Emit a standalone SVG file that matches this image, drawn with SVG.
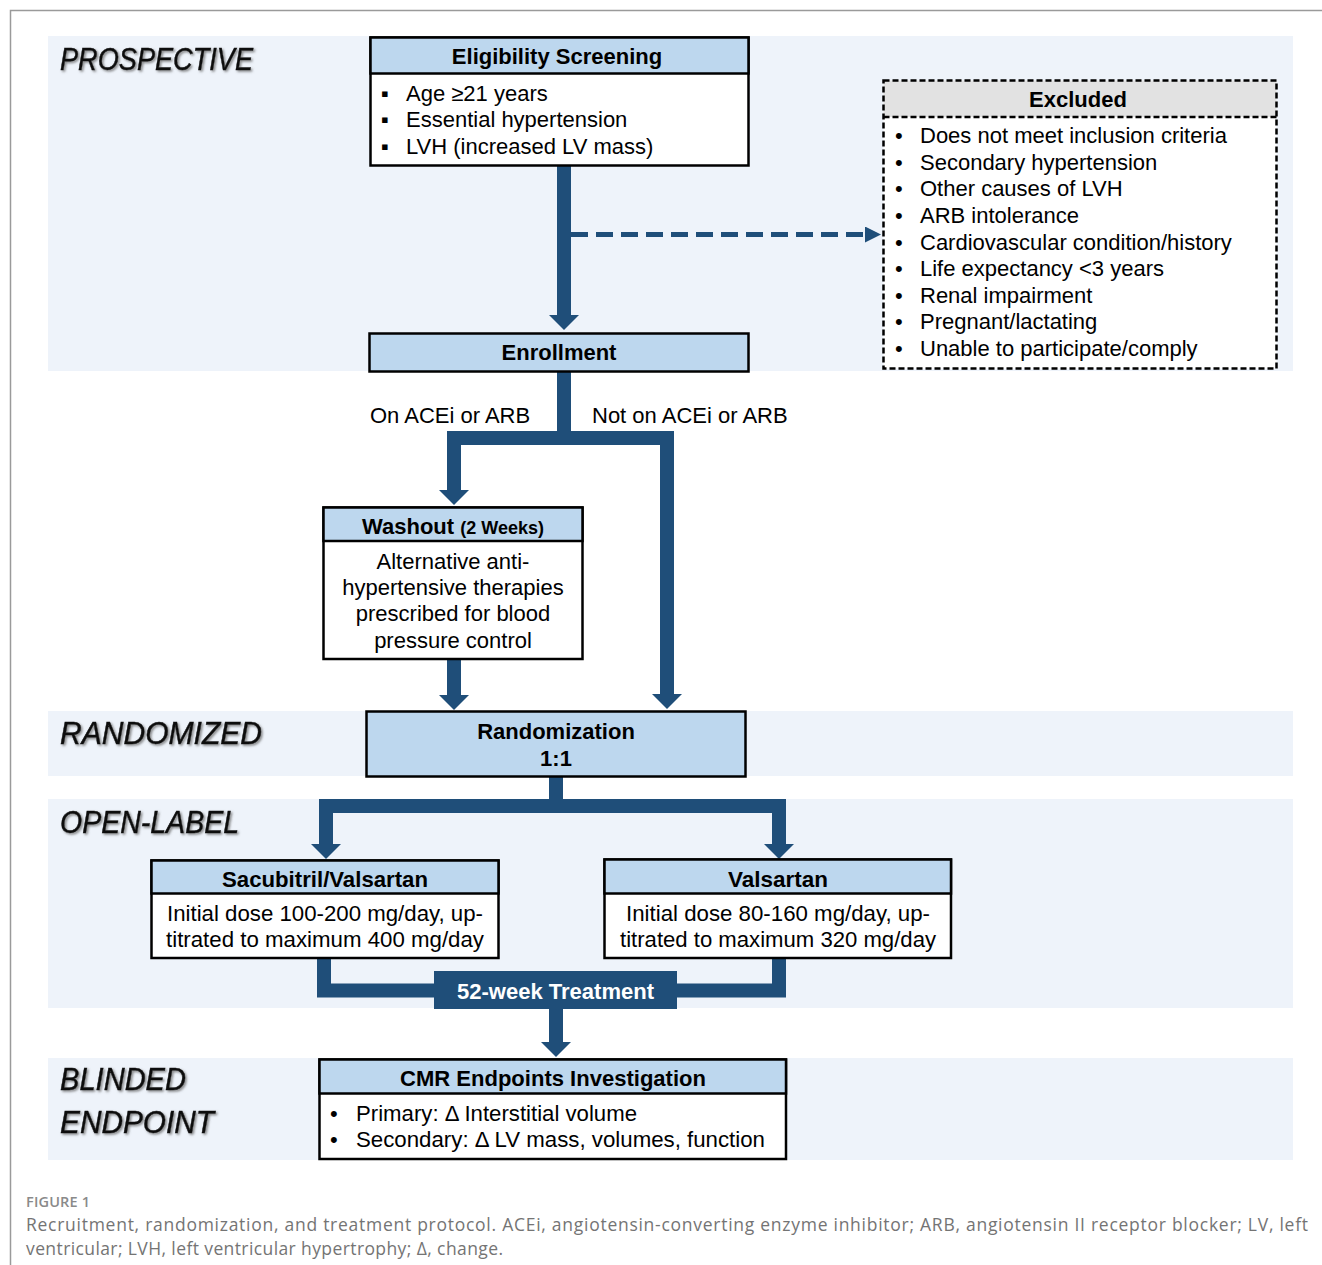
<svg xmlns="http://www.w3.org/2000/svg" width="1322" height="1265" viewBox="0 0 1322 1265">
<style>
.band{fill:#EEF3FA}
.lbl{font-family:"Liberation Sans",Arial,sans-serif;font-style:italic;font-size:32px;fill:#0A0A0A;stroke:#0A0A0A;stroke-width:0.5}
.box{fill:#fff;stroke:#000;stroke-width:2.5}
.hdr{fill:#BDD7EE;stroke:#000;stroke-width:2.5}
.ghdr{fill:#E2E2E2}
.dash{fill:none;stroke:#000;stroke-width:2.5;stroke-dasharray:6,3}
.ht{font-family:"Liberation Sans",Arial,sans-serif;font-weight:bold;font-size:22px;fill:#000;text-anchor:middle}
.bt{font-family:"Liberation Sans",Arial,sans-serif;font-size:22px;fill:#000}
.ct{font-family:"Liberation Sans",Arial,sans-serif;font-size:22px;fill:#000;text-anchor:middle}
.conn{fill:none;stroke:#1F4E79;stroke-width:14}
.cap{font-family:"Open Sans","Liberation Sans",sans-serif;fill:#747474}
</style>
<defs>
<marker id="ah" markerUnits="userSpaceOnUse" viewBox="0 -15 15 30" refX="0" refY="0" markerWidth="15" markerHeight="30" orient="auto">
<path d="M0,-15 L15,0 L0,15 Z" fill="#1F4E79"/>
</marker>
<marker id="ahs" markerUnits="userSpaceOnUse" viewBox="0 -8 16 16" refX="0" refY="0" markerWidth="16" markerHeight="16" orient="auto">
<path d="M0,-8 L16,0 L0,8 Z" fill="#1F4E79"/>
</marker>
<filter id="sh" x="-5%" y="-20%" width="110%" height="150%">
<feDropShadow dx="1.5" dy="1.5" stdDeviation="1.3" flood-color="#666" flood-opacity="0.8"/>
</filter>
</defs>
<rect width="1322" height="1265" fill="#fff"/>
<path d="M10.5,1265 V10.5 H1322" fill="none" stroke="#9A9A9A" stroke-width="1.5"/>

<g id="bands">
<rect class="band" x="48" y="36" width="1245" height="335"/>
<rect class="band" x="48" y="711" width="1245" height="65"/>
<rect class="band" x="48" y="799" width="1245" height="209"/>
<rect class="band" x="48" y="1058" width="1245" height="102"/>
</g>

<g id="phase-labels" filter="url(#sh)">
<text class="lbl" x="60" y="70" textLength="193" lengthAdjust="spacingAndGlyphs">PROSPECTIVE</text>
<text class="lbl" x="60" y="744" textLength="202" lengthAdjust="spacingAndGlyphs">RANDOMIZED</text>
<text class="lbl" x="60" y="833" textLength="179" lengthAdjust="spacingAndGlyphs">OPEN-LABEL</text>
<text class="lbl" x="60" y="1090" textLength="126" lengthAdjust="spacingAndGlyphs">BLINDED</text>
<text class="lbl" x="60" y="1133" textLength="154" lengthAdjust="spacingAndGlyphs">ENDPOINT</text>
</g>

<g id="connectors">
<path class="conn" d="M564,165 V315" marker-end="url(#ah)"/>
<path d="M571,234.5 H865" fill="none" stroke="#1F4E79" stroke-width="5" stroke-dasharray="17,8" marker-end="url(#ahs)"/>
<path class="conn" d="M564,371 V438"/>
<path class="conn" d="M454,489 V438 H667 V694" marker-end="url(#ah)"/>
<path d="M454,489 V490" class="conn" marker-end="url(#ah)"/>
<path class="conn" d="M454,659 V695" marker-end="url(#ah)"/>
<path class="conn" d="M556,776 V806"/>
<path class="conn" d="M326,844 V806 H779 V844" marker-end="url(#ah)"/>
<path class="conn" d="M326,843 V844" marker-end="url(#ah)"/>
<path class="conn" d="M324,958 V990.5 H779 V958"/>
<path class="conn" d="M556,1008 V1042" marker-end="url(#ah)"/>
</g>

<g id="eligibility">
<rect class="box" x="370.5" y="37.5" width="378" height="128"/>
<rect class="hdr" x="370.5" y="37.5" width="378" height="36"/>
<text class="ht" x="557" y="64">Eligibility Screening</text>
<text class="bt" x="381" y="101" font-size="18">▪</text>
<text class="bt" x="381" y="127" font-size="18">▪</text>
<text class="bt" x="381" y="154" font-size="18">▪</text>
<text class="bt" x="406" y="101">Age ≥21 years</text>
<text class="bt" x="406" y="127">Essential hypertension</text>
<text class="bt" x="406" y="154">LVH (increased LV mass)</text>
</g>

<g id="excluded">
<rect x="883.5" y="80.5" width="393" height="288" fill="#fff"/>
<rect class="ghdr" x="883.5" y="80.5" width="393" height="36.5"/>
<rect class="dash" x="883.5" y="80.5" width="393" height="288"/>
<line class="dash" x1="883.5" y1="117" x2="1276.5" y2="117"/>
<text class="ht" x="1078" y="107">Excluded</text>
<g class="bt">
<text x="895" y="143">•</text><text x="920" y="143">Does not meet inclusion criteria</text>
<text x="895" y="170">•</text><text x="920" y="170">Secondary hypertension</text>
<text x="895" y="196">•</text><text x="920" y="196">Other causes of LVH</text>
<text x="895" y="223">•</text><text x="920" y="223">ARB intolerance</text>
<text x="895" y="250">•</text><text x="920" y="250">Cardiovascular condition/history</text>
<text x="895" y="276">•</text><text x="920" y="276">Life expectancy &lt;3 years</text>
<text x="895" y="303">•</text><text x="920" y="303">Renal impairment</text>
<text x="895" y="329">•</text><text x="920" y="329">Pregnant/lactating</text>
<text x="895" y="356">•</text><text x="920" y="356">Unable to participate/comply</text>
</g>
</g>

<g id="enrollment">
<rect class="hdr" x="369.5" y="333.5" width="379" height="38"/>
<text class="ht" x="559" y="360">Enrollment</text>
</g>

<g id="branch-labels">
<text class="bt" x="370" y="423" font-size="21">On ACEi or ARB</text>
<text class="bt" x="592" y="423" font-size="21">Not on ACEi or ARB</text>
</g>

<g id="washout">
<rect class="box" x="323.5" y="507.5" width="259" height="151.5"/>
<rect class="hdr" x="323.5" y="507.5" width="259" height="33.5"/>
<text class="ht" x="453" y="534">Washout <tspan font-size="18">(2 Weeks)</tspan></text>
<text class="ct" x="453" y="569">Alternative anti-</text>
<text class="ct" x="453" y="595">hypertensive therapies</text>
<text class="ct" x="453" y="621">prescribed for blood</text>
<text class="ct" x="453" y="648">pressure control</text>
</g>

<g id="randomization">
<rect class="hdr" x="366.5" y="711.5" width="379" height="65"/>
<text class="ht" x="556" y="739">Randomization</text>
<text class="ht" x="556" y="766">1:1</text>
</g>

<g id="sacubitril">
<rect class="box" x="151.5" y="860.5" width="347" height="97.5"/>
<rect class="hdr" x="151.5" y="860.5" width="347" height="33"/>
<text class="ht" x="325" y="887" textLength="206" lengthAdjust="spacingAndGlyphs">Sacubitril/Valsartan</text>
<text class="ct" x="325" y="921" textLength="316" lengthAdjust="spacingAndGlyphs">Initial dose 100-200 mg/day, up-</text>
<text class="ct" x="325" y="947" textLength="318" lengthAdjust="spacingAndGlyphs">titrated to maximum 400 mg/day</text>
</g>

<g id="valsartan">
<rect class="box" x="604.5" y="859.5" width="346.5" height="98.5"/>
<rect class="hdr" x="604.5" y="859.5" width="346.5" height="34"/>
<text class="ht" x="778" y="887" textLength="100" lengthAdjust="spacingAndGlyphs">Valsartan</text>
<text class="ct" x="778" y="921" textLength="304" lengthAdjust="spacingAndGlyphs">Initial dose 80-160 mg/day, up-</text>
<text class="ct" x="778" y="947" textLength="316" lengthAdjust="spacingAndGlyphs">titrated to maximum 320 mg/day</text>
</g>

<g id="treatment">
<rect x="434" y="971" width="243" height="38" fill="#1F4E79"/>
<text class="ht" x="555.5" y="999" style="fill:#fff" textLength="197" lengthAdjust="spacingAndGlyphs">52-week Treatment</text>
</g>

<g id="cmr">
<rect class="box" x="319.5" y="1059.5" width="466.5" height="99.5"/>
<rect class="hdr" x="319.5" y="1059.5" width="466.5" height="34"/>
<text class="ht" x="553" y="1086" textLength="306" lengthAdjust="spacingAndGlyphs">CMR Endpoints Investigation</text>
<text class="bt" x="330" y="1121">•</text>
<text class="bt" x="356" y="1121" textLength="281" lengthAdjust="spacingAndGlyphs">Primary: Δ Interstitial volume</text>
<text class="bt" x="330" y="1147">•</text>
<text class="bt" x="356" y="1147" textLength="409" lengthAdjust="spacingAndGlyphs">Secondary: Δ LV mass, volumes, function</text>
</g>

<g id="caption">
<text class="cap" x="26" y="1207" font-size="14.5" font-weight="600" style="fill:#8A8A8A" textLength="64" lengthAdjust="spacing">FIGURE 1</text>
<text class="cap" x="26" y="1231" font-size="17.5" textLength="1282" lengthAdjust="spacing">Recruitment, randomization, and treatment protocol. ACEi, angiotensin-converting enzyme inhibitor; ARB, angiotensin II receptor blocker; LV, left</text>
<text class="cap" x="26" y="1255" font-size="17.5" textLength="477" lengthAdjust="spacing">ventricular; LVH, left ventricular hypertrophy; Δ, change.</text>
</g>
</svg>
